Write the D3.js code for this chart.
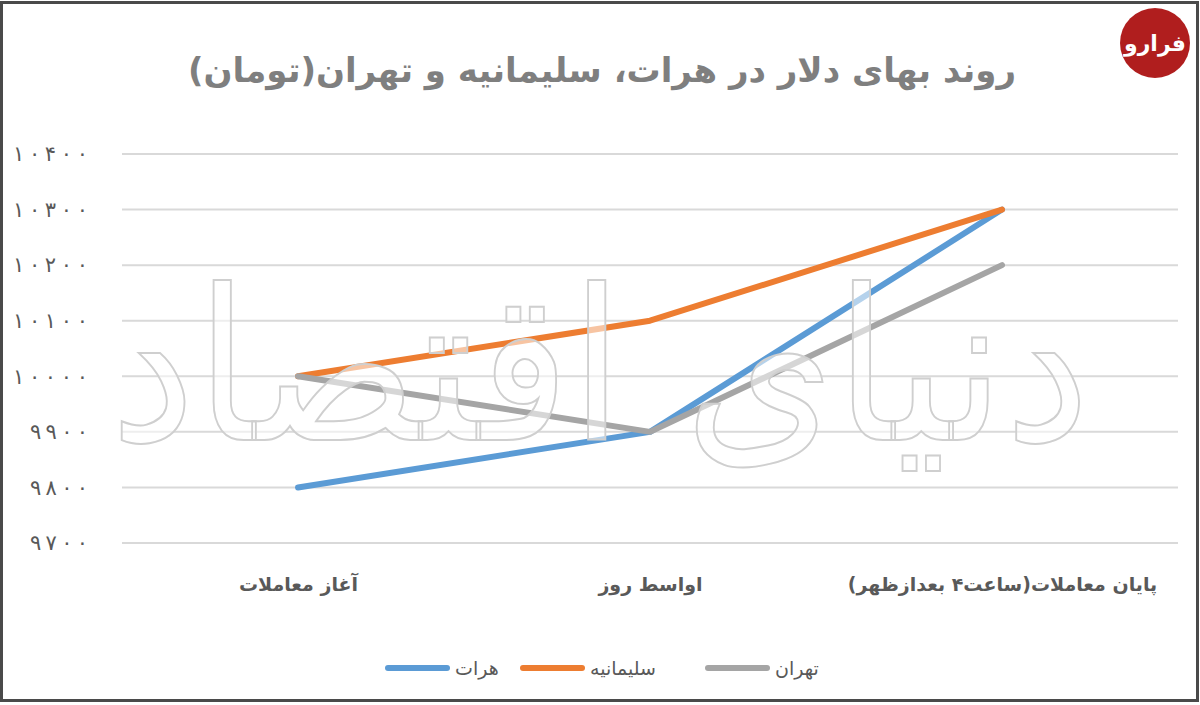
<!doctype html>
<html lang="fa">
<head>
  <meta charset="UTF-8">
  <title>روند بهای دلار</title>
  <script src="https://d3js.org/d3.v7.min.js"></script>
  <style>
    body { margin: 0; background: #fff; }
    text { font-family: "DejaVu Sans", sans-serif; }
  </style>
</head>
<body>
  <div id="chart"></div>
  <script type="text/javascript">
    // categories along x
    var categories = ["آغاز معاملات", "اواسط روز", "پایان معاملات(ساعت۴ بعدازظهر)"];
    // series names and values
    var seriesNames = ["هرات", "سلیمانیه", "تهران"];
    var herat = [9800, 9900, 10300];
    var sulaymaniyah = [10000, 10100, 10300];
    var tehran = [10000, 9900, 10200];
    var yTicks = [9700, 9800, 9900, 10000, 10100, 10200, 10300, 10400];
    var colors = ["#5b9bd5", "#ed7d31", "#a5a5a5"];

    var allSeries = [herat, sulaymaniyah, tehran];

    var width = 1200, height = 705;
    var svg = d3.select("#chart").append("svg")
      .attr("width", width)
      .attr("height", height);

    // frame
    svg.append("rect")
      .attr("x", 1.5).attr("y", 2.5)
      .attr("width", 1196).attr("height", 698)
      .attr("fill", "#fff")
      .attr("stroke", "#4a4a4a")
      .attr("stroke-width", 3);

    // persian digits
    function fa(s) {
      return String(s).replace(/[0-9]/g, function(c) { return "۰۱۲۳۴۵۶۷۸۹"[+c]; });
    }

    var xScale = d3.scalePoint()
      .domain(categories)
      .range([122, 1178])
      .padding(0.5);

    var yScale = d3.scaleLinear()
      .domain([9700, 10400])
      .range([543, 154]);

    // gridlines
    svg.append("g").selectAll("line")
      .data(yTicks)
      .enter().append("line")
        .attr("x1", 122).attr("x2", 1178)
        .attr("y1", function(d) { return yScale(d); })
        .attr("y2", function(d) { return yScale(d); })
        .attr("stroke", "#d9d9d9")
        .attr("stroke-width", 2);

    // y axis labels, digits spread wide like the original
    var yAxis = d3.axisLeft(yScale)
      .tickValues(yTicks)
      .tickSize(0)
      .tickPadding(0)
      .tickFormat(function(d) { return fa(d); });
    var yG = svg.append("g")
      .attr("transform", "translate(88,0)")
      .call(yAxis);
    yG.select(".domain").remove();
    yG.selectAll("text")
      .attr("fill", "#595959")
      .attr("font-size", 21)
      .attr("textLength", function(d) { return String(d).length * 17 - 10; })
      .attr("lengthAdjust", "spacing")
      .style("font-family", "DejaVu Sans");

    // x axis labels
    var xAxis = d3.axisBottom(xScale).tickSize(0).tickPadding(0);
    var xG = svg.append("g")
      .attr("transform", "translate(0,577)")
      .call(xAxis);
    xG.select(".domain").remove();
    xG.selectAll("text")
      .attr("fill", "#595959")
      .attr("font-size", 19)
      .attr("font-weight", "bold")
      .style("direction", "rtl")
      .style("font-family", "DejaVu Sans");

    // lines
    var line = d3.line()
      .x(function(d, i) { return xScale(categories[i]); })
      .y(function(d) { return yScale(d); });

    svg.append("g").selectAll("path")
      .data(allSeries)
      .enter().append("path")
        .attr("d", line)
        .attr("fill", "none")
        .attr("stroke", function(d, i) { return colors[i]; })
        .attr("stroke-width", 6)
        .attr("stroke-linecap", "round")
        .attr("stroke-linejoin", "round");

    // watermark
    svg.append("text")
      .attr("x", 600).attr("y", 440)
      .attr("text-anchor", "middle")
      .attr("font-size", 210)
      .attr("textLength", 980)
      .attr("lengthAdjust", "spacingAndGlyphs")
      .attr("fill", "#ffffff")
      .attr("fill-opacity", 0.55)
      .attr("stroke", "#cfcfcf")
      .attr("stroke-width", 2)
      .style("direction", "rtl")
      .text("دنیای اقتصاد");

    // title
    svg.append("text")
      .attr("x", 602).attr("y", 82)
      .attr("text-anchor", "middle")
      .attr("font-size", 34)
      .attr("font-weight", "bold")
      .attr("fill", "#7f7f7f")
      .style("direction", "rtl")
      .text("روند بهای دلار در هرات، سلیمانیه و تهران(تومان)");

    // legend
    var legendX = [385, 520, 705];
    var legend = svg.append("g").selectAll("g")
      .data(seriesNames)
      .enter().append("g")
        .attr("transform", function(d, i) { return "translate(" + legendX[i] + ",668)"; });
    legend.append("line")
      .attr("x1", 3).attr("x2", 62)
      .attr("stroke", function(d, i) { return colors[i]; })
      .attr("stroke-width", 6)
      .attr("stroke-linecap", "round");
    legend.append("text")
      .attr("x", 70).attr("y", 7)
      .attr("font-size", 19)
      .attr("fill", "#595959")
      .style("direction", "ltr")
      .text(function(d) { return d; });

    // logo
    var logo = svg.append("g").attr("transform", "translate(1155,43)");
    logo.append("circle").attr("r", 35).attr("fill", "#b01e1e");
    logo.append("text")
      .attr("text-anchor", "middle")
      .attr("y", 8)
      .attr("font-size", 22)
      .attr("font-weight", "bold")
      .attr("fill", "#fff")
      .text("فرارو");
  </script>
</body>
</html>
